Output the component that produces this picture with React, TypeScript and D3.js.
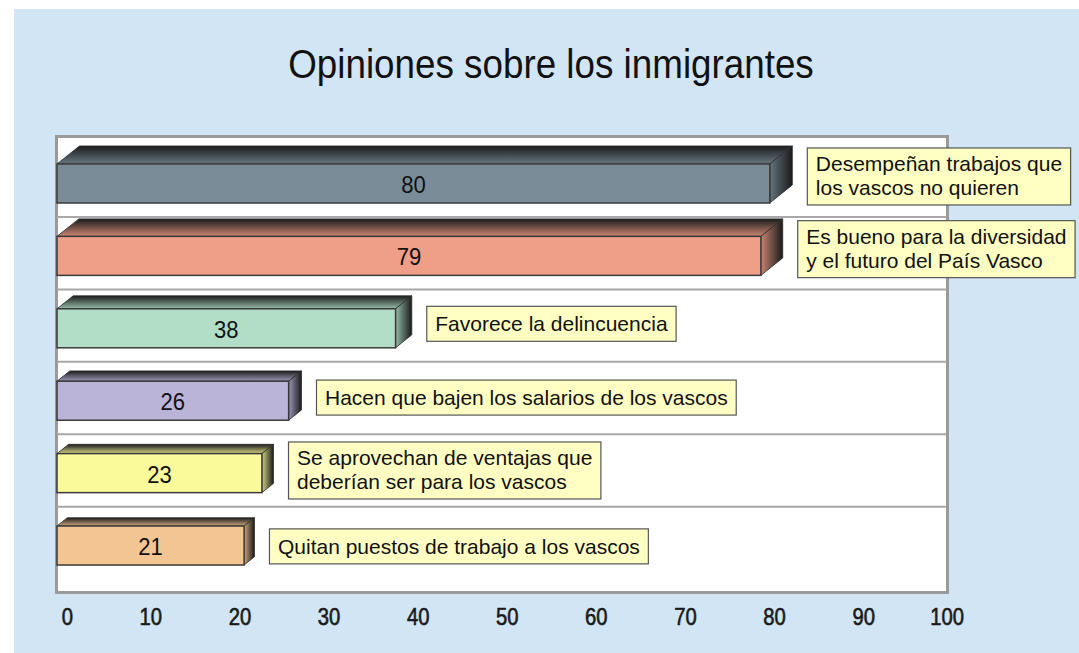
import React, { useEffect, useRef } from "react";
import * as d3 from "d3";

const chartTitle = "Opiniones sobre los inmigrantes";
const labelLines: string[][] = [
  ["Desempeñan trabajos que", "los vascos no quieren"],
  ["Es bueno para la diversidad", "y el futuro del País Vasco"],
  ["Favorece la delincuencia"],
  ["Hacen que bajen los salarios de los vascos"],
  ["Se aprovechan de ventajas que", "deberían ser para los vascos"],
  ["Quitan puestos de trabajo a los vascos"],
];
const categories = labelLines.map((l) => l.join(" "));
const values = [80, 79, 38, 26, 23, 21];
const barColors = ["#798c97", "#ef9e87", "#b2dec8", "#bab4d9", "#fafa9b", "#f3c592"];
const tickValues = [0, 10, 20, 30, 40, 50, 60, 70, 80, 90, 100];

const W = 1079;
const H = 653;
const FONT = "'Liberation Sans', Arial, Helvetica, sans-serif";

export default function App() {
  const ref = useRef<SVGSVGElement | null>(null);

  useEffect(() => {
    const svg = d3.select(ref.current);
    svg.selectAll("*").remove();

    const plot = { left: 57, right: 948, top: 135.5, bottom: 593.5 };
    const x = d3.scaleLinear().domain([0, 100]).range([plot.left, plot.right]);
    const y = d3
      .scaleBand<string>()
      .domain(categories)
      .range([plot.top, plot.bottom])
      .paddingInner(0.461)
      .paddingOuter(0.393);
    const bw = y.bandwidth();
    // perspective: 3D depth shrinks toward the bottom rows
    const depth = d3.scaleLinear().domain([0, 1, 2, 3, 5]).range([1, 0.97, 0.72, 0.57, 0.46]);
    const tickX = (v: number) => x(v) + 16;

    // background
    svg.append("rect").attr("x", 14).attr("y", 9).attr("width", W - 14).attr("height", H - 9).attr("fill", "#d1e5f4");

    // title
    svg
      .append("text")
      .attr("transform", `translate(551,78) scale(0.92,1)`)
      .attr("text-anchor", "middle")
      .attr("font-family", FONT)
      .attr("font-size", 40)
      .attr("fill", "#111")
      .text(chartTitle);

    // plot area
    svg
      .append("rect")
      .attr("x", plot.left - 0.5)
      .attr("y", plot.top + 1)
      .attr("width", plot.right - plot.left)
      .attr("height", plot.bottom - plot.top - 2)
      .attr("fill", "#ffffff")
      .attr("stroke", "#9a9a9a")
      .attr("stroke-width", 3);

    // grid lines between categories
    categories.slice(0, -1).forEach((c) => {
      const gy = (y(c) as number) + bw + 14;
      svg
        .append("line")
        .attr("x1", plot.left)
        .attr("x2", plot.right - 1.5)
        .attr("y1", gy)
        .attr("y2", gy)
        .attr("stroke", "#a8a8a8")
        .attr("stroke-width", 2);
    });

    const defs = svg.append("defs");

    categories.forEach((c, i) => {
      const col = barColors[i];
      const k = depth(i);
      const dx = 22.5 * k;
      const dy = 18 * k;
      const x0 = x(0);
      const x1 = x(values[i]);
      const yT = y(c) as number;
      const yB = yT + bw;

      const topId = `top${i}`;
      const sideId = `side${i}`;
      const gt = defs.append("linearGradient").attr("id", topId).attr("x1", 0).attr("y1", 0).attr("x2", 0).attr("y2", 1);
      gt.append("stop").attr("offset", 0).attr("stop-color", "#1c1c1c");
      gt.append("stop").attr("offset", 1).attr("stop-color", d3.color(col)!.darker(0.45).formatHex());
      const gs = defs.append("linearGradient").attr("id", sideId).attr("x1", 0).attr("y1", 0).attr("x2", 1).attr("y2", 0);
      gs.append("stop").attr("offset", 0).attr("stop-color", d3.color(col)!.darker(0.5).formatHex());
      gs.append("stop").attr("offset", 1).attr("stop-color", "#1a1a1a");

      const g = svg.append("g");
      g.append("polygon")
        .attr("points", [[x0, yT], [x0 + dx, yT - dy], [x1 + dx, yT - dy], [x1, yT]].map((p) => p.join(",")).join(" "))
        .attr("fill", `url(#${topId})`)
        .attr("stroke", "#2a2a2a")
        .attr("stroke-width", 0.8);
      g.append("polygon")
        .attr("points", [[x1, yT], [x1 + dx, yT - dy], [x1 + dx, yB - dy], [x1, yB]].map((p) => p.join(",")).join(" "))
        .attr("fill", `url(#${sideId})`)
        .attr("stroke", "#2a2a2a")
        .attr("stroke-width", 0.8);
      g.append("rect")
        .attr("x", x0)
        .attr("y", yT)
        .attr("width", x1 - x0)
        .attr("height", bw)
        .attr("fill", col)
        .attr("stroke", "#3a3a3a")
        .attr("stroke-width", 1.5);

      // value label
      g.append("text")
        .attr("transform", `translate(${(x0 + x1) / 2},${yT + bw / 2 + 9.5}) scale(0.92,1)`)
        .attr("text-anchor", "middle")
        .attr("font-family", FONT)
        .attr("font-size", 24)
        .attr("fill", "#111")
        .text(values[i]);

      // category label box
      const lines = labelLines[i];
      const pad = 8.5;
      const boxX = x1 + dx + 15;
      const boxH = lines.length === 1 ? 35 : 57;
      const cy = (yT - dy + yB) / 2 + 2 + (i === categories.length - 1 ? 3 : 0);
      const boxY = cy - boxH / 2;
      const lg = svg.append("g");
      const rect = lg
        .append("rect")
        .attr("x", boxX)
        .attr("y", boxY)
        .attr("height", boxH)
        .attr("fill", "#ffffc4")
        .attr("stroke", "#555")
        .attr("stroke-width", 1.2);
      let maxW = 0;
      lines.forEach((ln, j) => {
        const t = lg
          .append("text")
          .attr("x", boxX + pad)
          .attr("y", boxY + (lines.length === 1 ? 25 : 23.5) + j * 23.5)
          .attr("font-family", FONT)
          .attr("font-size", 21)
          .attr("fill", "#111")
          .text(ln);
        const w = (t.node() as SVGTextElement).getComputedTextLength();
        maxW = Math.max(maxW, w);
      });
      rect.attr("width", maxW + pad * 2);
    });

    // x tick labels
    tickValues.forEach((v) => {
      svg
        .append("text")
        .attr("transform", `translate(${tickX(v)},625) scale(0.88,1)`)
        .attr("text-anchor", "end")
        .attr("font-family", FONT)
        .attr("font-size", 23)
        .attr("fill", "#1a1a1a")
        .attr("stroke", "#1a1a1a")
        .attr("stroke-width", 0.6)
        .text(v);
    });
  }, []);

  return (
    <svg
      ref={ref}
      width={W}
      height={H}
      style={{ position: "absolute", left: 0, top: 0, display: "block", background: "#ffffff" }}
    />
  );
}
